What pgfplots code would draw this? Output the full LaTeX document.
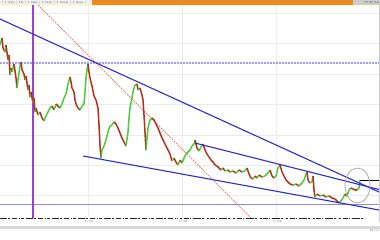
\documentclass[border=0pt]{standalone}
\usepackage{pgfplots}
\pgfplotsset{compat=1.18}
\usepackage{pgfplotstable}
\definecolor{barorange}{RGB}{236,138,36}
\definecolor{trendblue}{RGB}{45,45,215}
\definecolor{cPurpleV}{RGB}{160,60,215}
\definecolor{cLavenderH}{RGB}{150,135,225}
\definecolor{cDotted}{RGB}{160,160,245}
\definecolor{cSalmon}{RGB}{240,130,120}
\pgfplotstableread{
x y c
0 45 1
2 38 0
3 48 0
5 52 1
6 45 0
8 60 1
9 55 0
10 75 1
11 68 0
12 72 1
14 64 0
16 78 0
17 88 1
18 80 1
20 66 1
21 62 0
22 70 0
24 74 0
25 80 1
26 76 0
28 90 1
29 85 0
30 97 1
31 92 0
33 103 1
34 98 0
35 112 1
36 108 0
38 115 1
40 112 0
42 118 0
44 121 1
46 116 1
48 112 1
50 108 1
52 106 0
54 110 1
56 104 0
58 106 0
60 108 1
62 104 1
64 98 1
66 94 1
68 84 1
70 77 0
71 82 0
72 88 0
74 92 0
75 100 0
76 104 0
78 108 0
80 110 1
82 106 1
84 104 1
85 92 1
86 78 1
87 70 1
88 64 0
89 72 0
90 78 0
92 86 0
94 96 0
96 100 0
98 108 0
99 125 0
100 145 0
101 158 1
102 150 1
104 146 1
106 140 1
108 132 1
110 126 1
112 125 1
114 122 0
116 124 0
118 128 0
120 133 0
122 138 0
124 142 0
126 146 1
128 132 1
129 118 1
130 108 1
132 98 1
133 92 1
135 85 1
137 84 0
138 90 1
140 88 0
142 95 0
143 100 0
144 115 0
146 150 1
147 138 1
148 128 1
150 120 1
152 118 0
154 120 0
156 124 0
158 128 0
160 133 0
162 138 0
164 142 0
166 146 0
168 150 0
170 154 0
172 161 1
174 158 0
176 162 0
178 165 1
180 160 0
182 163 1
184 158 1
186 154 1
188 152 1
190 150 1
192 146 1
194 144 1
195 140 0
197 148 0
199 151 1
201 147 1
203 144 0
205 150 0
207 154 0
209 157 0
211 160 0
213 162 0
215 165 0
217 166 0
219 168 0
221 170 1
223 168 0
225 171 1
228 170 0
230 172 1
233 171 0
236 173 1
239 170 0
242 172 1
245 171 1
247 168 0
249 174 0
251 178 0
253 179 1
255 176 0
257 178 1
259 175 0
262 177 1
265 176 1
268 173 1
270 170 0
272 176 0
274 178 1
276 176 1
278 168 1
280 165 0
282 172 0
284 176 0
286 180 0
288 182 0
290 184 0
293 185 1
296 184 0
299 186 1
302 183 1
304 180 1
306 174 1
307 172 0
308 180 0
310 183 1
312 182 1
313 176 0
314 190 0
315 197 1
317 194 0
320 196 1
323 195 0
326 197 1
329 196 0
332 198 0
335 199 0
337 201 0
339 203 1
341 201 1
343 198 1
345 194 0
347 196 1
349 190 1
351 188 0
353 189 0
355 190 0
357 190 1
359 188 1
360 180 1
}\price
\begin{document}
\begin{tikzpicture}
\path[use as bounding box, fill=white] (0,0) rectangle (380pt,-240pt);
% top bar
\fill[gray!12] (0,0) rectangle (92pt,-5pt);
\fill[barorange] (92pt,0) rectangle (353pt,-5pt);
\fill[gray!40] (353pt,0) rectangle (380pt,-5pt);
\fill[yellow!25] (0,-5pt) rectangle (380pt,-6pt);
\node[font=\fontsize{3}{3}\selectfont, text=black!70, inner sep=0pt, anchor=west] at (2pt,-2.5pt) {\textbar\ 1 day \textbar\ 1h \textbar\ 1 min \textbar\ 5 min \textbar\ 1 week \textbar\ 1 mon \textbar};
\node[font=\fontsize{3}{3}\selectfont, text=black!70, inner sep=0pt, anchor=east] at (379pt,-2.5pt) {17:30:52};
\begin{axis}[
  at={(0pt,-5pt)}, anchor=north west,
  scale only axis, width=379pt, height=213pt,
  xmin=0, xmax=379, ymin=5, ymax=218, y dir=reverse,
  axis line style={draw=none},
  xtick={88,182,276}, ytick={13,43,74,104,135,165,195},
  xticklabels={}, yticklabels={},
  major tick length=0pt,
  grid=major, grid style={gray!15, line width=0.8pt},
  colormap={rg}{rgb255=(185,45,25) rgb255=(70,205,55)},
  point meta min=0, point meta max=1,
]
\addplot[color=cDotted, line width=1.2pt, dash pattern=on 1.5pt off 1.5pt] coordinates {(0,63) (379,63)};
\addplot[color=cLavenderH, line width=1pt] coordinates {(0,204) (379,204)};
\addplot[color=cPurpleV, line width=1.3pt] coordinates {(33,5) (33,218)};
\addplot[color=cSalmon, line width=0.9pt, dash pattern=on 2pt off 1pt] coordinates {(38,5) (251,218)};
\addplot[mesh, shader=flat corner, line width=1.5pt, point meta=explicit] table[x=x, y=y, meta=c] {\price};
\addplot[color=trendblue, line width=1.1pt] coordinates {(0,19) (379,192)};
\addplot[color=trendblue, line width=1.1pt] coordinates {(195,143) (379,189.5)};
\addplot[color=trendblue, line width=1.1pt] coordinates {(83,156) (379,210)};
\addplot[color=black, line width=0.8pt] coordinates {(360,180) (379,180)};
\draw[gray!65, line width=0.8pt] (axis cs:357.5,185.5) ellipse [x radius=12.5, y radius=17.5];
\end{axis}
\draw[gray!40, line width=0.8pt] (379pt,-5pt) -- (379pt,-222pt);
% bottom tick strip
\draw[black!85, line width=1.4pt, dash pattern=on 7pt off 1pt on 2pt off 1.5pt on 5pt off 2pt on 1pt off 1pt on 3pt off 2.5pt] (0,-218.5pt) -- (178pt,-218.5pt);
\draw[black!85, line width=1.4pt, dash pattern=on 2pt off 1.5pt on 5pt off 1pt on 1pt off 2pt on 8pt off 1pt on 2pt off 3pt] (180pt,-218.5pt) -- (365pt,-218.5pt);
\node[font=\fontsize{3}{3}\selectfont, text=black!70, inner sep=0pt, anchor=north] at (89pt,-220.5pt) {1/11};
\node[font=\fontsize{3}{3}\selectfont, text=black!70, inner sep=0pt, anchor=north] at (183pt,-220.5pt) {1/12};
\node[font=\fontsize{3}{3}\selectfont, text=black!70, inner sep=0pt, anchor=north] at (277pt,-220.5pt) {1/13};
\fill[gray!30] (0,-226pt) rectangle (380pt,-229pt);
\node[font=\fontsize{3}{3}\selectfont, text=black!60, inner sep=0pt, anchor=east] at (379pt,-231pt) {12:00};
\end{tikzpicture}
\end{document}
